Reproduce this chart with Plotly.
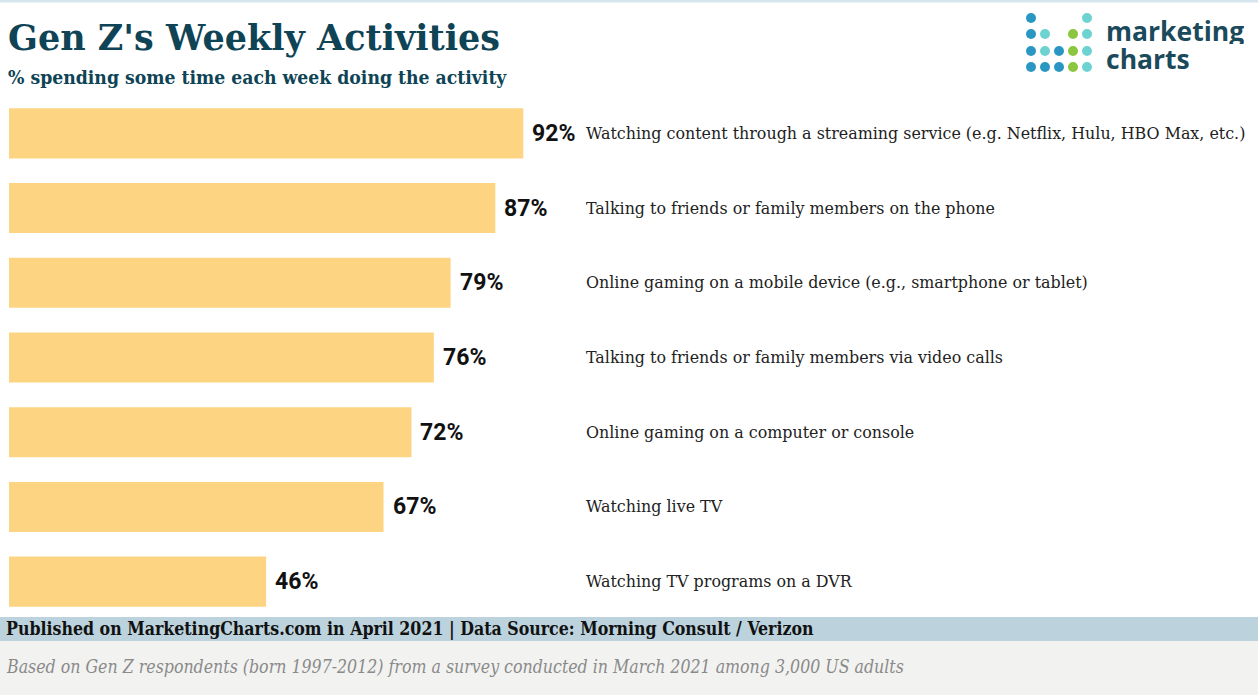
import plotly.graph_objects as go

categories = [
    "Watching content through a streaming service (e.g. Netflix, Hulu, HBO Max, etc.)",
    "Talking to friends or family members on the phone",
    "Online gaming on a mobile device (e.g., smartphone or tablet)",
    "Talking to friends or family members via video calls",
    "Online gaming on a computer or console",
    "Watching live TV",
    "Watching TV programs on a DVR",
]
values = [92, 87, 79, 76, 72, 67, 46]
value_labels = [f"{v}%" for v in values]

W, H = 1258, 695
PX_PER_PCT = 5.59
LEFT = 9
LABEL_X = (584 - LEFT) / PX_PER_PCT

BAR = "#FDD582"
DARK = "#0E4455"

def px(x): return x / W
def py(y): return 1 - y / H

fig = go.Figure()
fig.add_trace(go.Bar(
    x=values, y=categories, orientation="h",
    marker=dict(color=BAR, line=dict(width=0)),
    hoverinfo="skip", width=0.67,
))

for c, v, t in zip(categories, values, value_labels):
    fig.add_annotation(x=v, y=c, xref="x", yref="y", text=f"<b>{t}</b>",
                       xanchor="left", showarrow=False, xshift=7,
                       font=dict(family="Roboto", size=23, color="#111111"))
    fig.add_annotation(x=LABEL_X, y=c, xref="x", yref="y", text=c,
                       xanchor="left", showarrow=False,
                       font=dict(family="DejaVu Serif", size=15.9, color="#222222"))

shapes = []
shapes.append(dict(type="rect", xref="paper", yref="paper", x0=0, x1=1, y0=py(2.5), y1=1,
                   fillcolor="#d6e6ee", line=dict(width=0), layer="below"))
shapes.append(dict(type="rect", xref="paper", yref="paper", x0=0, x1=1, y0=py(641), y1=py(617),
                   fillcolor="#bcd3de", line=dict(width=0), layer="below"))
shapes.append(dict(type="rect", xref="paper", yref="paper", x0=0, x1=1, y0=0, y1=py(641),
                   fillcolor="#f2f2f1", line=dict(width=0), layer="below"))

blue, teal, green = "#2a97c2", "#6dd3d1", "#8cc63e"
cols = [1031, 1045, 1059, 1073, 1087]
rows = [18, 34, 51, 67]
grid = [
    [blue, None, None, None, teal],
    [blue, teal, None, green, teal],
    [blue, teal, blue, green, teal],
    [blue, blue, blue, green, teal],
]
r = 5
for ri, row in enumerate(grid):
    for ci, col in enumerate(row):
        if col is None:
            continue
        cx, cy = cols[ci], rows[ri]
        shapes.append(dict(type="circle", xref="paper", yref="paper",
                           x0=px(cx - r), x1=px(cx + r), y0=py(cy + r), y1=py(cy - r),
                           fillcolor=col, line=dict(width=0)))

annotations = [
    dict(text="<b>Gen Z's Weekly Activities</b>", x=px(6), y=py(37), xref="paper", yref="paper",
         xanchor="left", yanchor="middle", showarrow=False,
         font=dict(family="DejaVu Serif", size=35, color=DARK)),
    dict(text="<b>% spending some time each week doing the activity</b>", x=px(6), y=py(77),
         xref="paper", yref="paper", xanchor="left", yanchor="middle", showarrow=False,
         font=dict(family="DejaVu Serif Condensed", size=19.2, color=DARK)),
    dict(text="<b>marketing</b>", x=px(1104), y=py(31), xref="paper", yref="paper",
         xanchor="left", yanchor="middle", showarrow=False, height=26,
         font=dict(family="Open Sans", size=26.5, color="#1b4a5b")),
    dict(text="<b>charts</b>", x=px(1104), y=py(59), xref="paper", yref="paper",
         xanchor="left", yanchor="middle", showarrow=False, height=26,
         font=dict(family="Open Sans", size=26.5, color="#1b4a5b")),
    dict(text="<b>Published on MarketingCharts.com in April 2021 | Data Source: Morning Consult / Verizon</b>",
         x=px(4), y=py(629), xref="paper", yref="paper", xanchor="left", yanchor="middle",
         showarrow=False, font=dict(family="DejaVu Serif Condensed", size=17.6, color="#111111")),
    dict(text="<i>Based on Gen Z respondents (born 1997-2012) from a survey conducted in March 2021 among 3,000 US adults</i>",
         x=px(4), y=py(667), xref="paper", yref="paper", xanchor="left", yanchor="middle",
         showarrow=False, font=dict(family="DejaVu Serif Condensed", size=17.6, color="#8a8a8a")),
]
for a in annotations:
    fig.add_annotation(**a)

fig.update_layout(
    width=W, height=H,
    margin=dict(l=0, r=0, t=0, b=0),
    paper_bgcolor="white", plot_bgcolor="white",
    showlegend=False, shapes=shapes,
    xaxis=dict(domain=[px(LEFT), 1], range=[0, (W - LEFT) / PX_PER_PCT],
               visible=False, fixedrange=True),
    yaxis=dict(domain=[py(619), py(96)], autorange="reversed", visible=False, fixedrange=True),
    bargap=0.33,
)

fig.write_html("out.html", config={"displayModeBar": False},
               post_script="document.body.style.margin='0';document.body.style.overflow='hidden';")
